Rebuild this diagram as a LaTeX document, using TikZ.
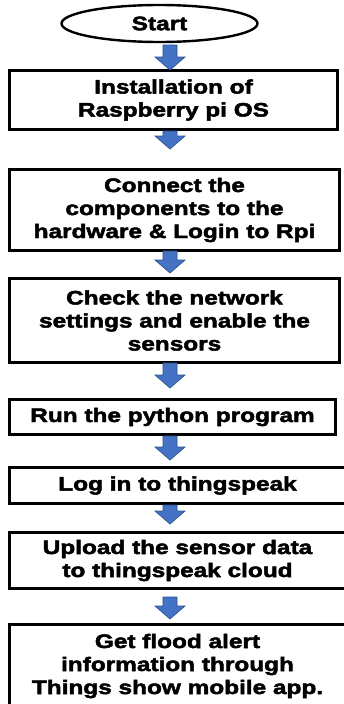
\documentclass[tikz,border=0pt]{standalone}
\usepackage{fontspec}
\setmainfont{Liberation Sans Bold}[FakeStretch=1.25, FakeBold=2.5]
\usetikzlibrary{shapes.geometric,calc}
\definecolor{arrowfill}{HTML}{4472C4}
\definecolor{arrowedge}{HTML}{2F528F}
\tikzset{
  flowbox/.style={draw=black, line width=3.2pt, rectangle, inner sep=0pt, align=center,
    font=\fontsize{19.5}{23}\selectfont},
  startnode/.style={draw=black, line width=2.4pt, ellipse, inner sep=0pt,
    font=\fontsize{19.5}{23}\selectfont},
  blockarrow/.style={fill=arrowfill, draw=arrowedge, line width=0.7pt, line join=miter}
}
\newcommand\blockarr[2]{%
  \draw[blockarrow] let \p1=(#1), \p2=(#2) in
    (\x1-7pt,\y1) -- (\x1+7pt,\y1) -- (\x1+7pt,\y2+13pt) -- (\x1+15pt,\y2+13pt)
    -- (\x1,\y2) -- (\x1-15pt,\y2+13pt) -- (\x1-7pt,\y2+13pt) -- cycle;}
\begin{document}
\begin{tikzpicture}[x=1pt,y=1pt]
\useasboundingbox (0,0) rectangle (344,-704);
\clip (0,0) rectangle (344,-704);
\fill[white] (0,0) rectangle (344,-704);

\node[startnode, minimum width=196pt, minimum height=37pt] (start) at (159.5,-23.5) {Start};
\node[flowbox, minimum width=327.8pt, minimum height=58.8pt] (b1) at (173.5,-100) {Installation of\\Raspberry pi OS};
\node[flowbox, minimum width=329.8pt, minimum height=80.8pt] (b2) at (174.5,-210) {Connect the\\components to the\\hardware \& Login to Rpi};
\node[flowbox, minimum width=329.8pt, minimum height=83.8pt] (b3) at (174.5,-320.5) {Check the network\\settings and enable the\\sensors};
\node[flowbox, minimum width=325.8pt, minimum height=34.8pt] (b4) at (172.5,-417) {Run the python program};
\node[flowbox, minimum width=335.8pt, minimum height=35.8pt] (b5) at (177.5,-485.5) {Log in to thingspeak};
\node[flowbox, minimum width=335.8pt, minimum height=55.8pt] (b6) at (177.5,-560.5) {Upload the sensor data\\to thingspeak cloud};
\node[flowbox, minimum width=335.8pt, minimum height=82.8pt] (b7) at (177.5,-666) {Get flood alert\\information through\\Things show mobile app.};

\coordinate (a1s) at (170,-45);  \coordinate (a1e) at (170,-70);
\coordinate (a2s) at (170,-131); \coordinate (a2e) at (170,-149);
\coordinate (a3s) at (170,-251); \coordinate (a3e) at (170,-273);
\coordinate (a4s) at (170,-363); \coordinate (a4e) at (170,-388);
\coordinate (a5s) at (170,-436); \coordinate (a5e) at (170,-460);
\coordinate (a6s) at (170,-505); \coordinate (a6e) at (170,-524);
\coordinate (a7s) at (170,-597); \coordinate (a7e) at (170,-619);
\blockarr{a1s}{a1e}
\blockarr{a2s}{a2e}
\blockarr{a3s}{a3e}
\blockarr{a4s}{a4e}
\blockarr{a5s}{a5e}
\blockarr{a6s}{a6e}
\blockarr{a7s}{a7e}
\end{tikzpicture}
\end{document}
